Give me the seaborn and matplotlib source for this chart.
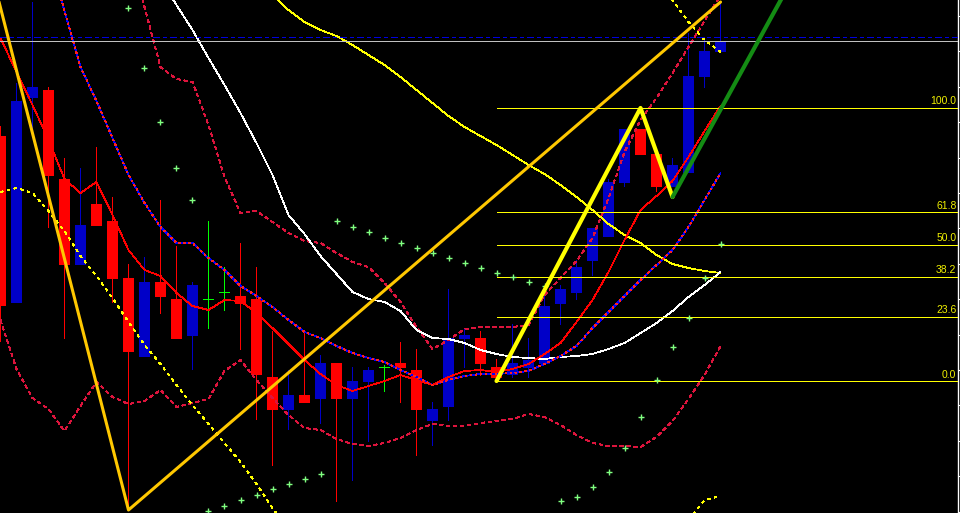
import numpy as np
import pandas as pd
import matplotlib
matplotlib.use("Agg")
import matplotlib.pyplot as plt
import seaborn as sns

nan = np.nan

# --- candles (price units = screen rows of the terminal, top = 0) ---
bars = np.arange(46)
open_ = [136, 303, 98, 90, 179, 265, 204, 221, 278, 357, 282, 299, 336, 299, 292, 296,
         299, 377, 410, 395, 399, 363, 399, 382, 367, 363, 370, 421, 407, 339, 338, 367,
         375, 368, 364, 304, 293, 261, 237, 183, 129, 154, 187, 173, 77, 52]
high = [126, 83, 2, 87, 158, 168, 147, 197, 264, 257, 200, 246, 282, 221, 267, 243,
        267, 331, 370, 331, 355, 363, 367, 367, 365, 342, 349, 402, 289, 328, 331, 359,
        324, 338, 294, 285, 260, 228, 179, 129, 129, 154, 158, 33, 37, 2]
low = [342, 303, 130, 228, 339, 265, 226, 303, 510, 357, 314, 339, 370, 329, 311, 350,
       420, 466, 430, 403, 424, 502, 481, 442, 392, 403, 456, 446, 421, 368, 376, 378,
       378, 378, 364, 325, 300, 276, 237, 187, 155, 192, 187, 173, 88, 52]
close = [306, 101, 87, 176, 265, 225, 226, 279, 352, 282, 297, 339, 285, 299, 292, 304,
         375, 410, 395, 403, 363, 399, 381, 370, 367, 368, 410, 409, 338, 335, 364, 378,
         363, 360, 306, 289, 267, 228, 182, 129, 155, 187, 165, 76, 51, 41]

# --- indicators, one value per bar (nan = not drawn / off chart) ---
ma_fast = [38, 72, 105, 140, 179, 193, 182, 215, 250, 270, 276, 293, 306, 310, 300, 301,
           313, 328, 344, 360, 374, 385, 391, 386, 381, 375, 380, 385, 377, 371, 370, 372,
           369, 364, 354, 343, 322, 300, 272, 240, 210, 196, 181, 157, 131, 106]
ma_mid = [nan, nan, nan, -46, 11, 67, 101, 138, 175, 203, 227, 243, 243, 258, 270, 286,
          296, 307, 320, 332, 338, 346, 353, 358, 362, 370, 377, 385, 380, 376, 374, 374,
          373, 371, 364, 356, 346, 328, 312, 296, 280, 265, 250, 227, 200, 173]
env_up = [nan] * 8 + [-50, 7, 67, 79, 82, 125, 177, 213, 211, 222, 233, 241, 243, 253,
                      262, 267, 283, 302, 327, 349, 340, 329, 327, 327, 327, 325, 295, 278,
                      261, 238, 198, 152, 120, 98, 73, 47, 21, -5]
env_dn = [320, 369, 398, 409, 431, 406, 382, 397, 404, 401, 390, 407, 403, 399, 371, 360,
          380, 398, 415, 428, 430, 439, 444, 446, 443, 438, 430, 424, 426, 426, 423, 421,
          419, 414, 417, 425, 435, 443, 446, 446, 447, 437, 421, 399, 375, 346]
ma_slow = [nan] * 9 + [-47, -21, 5, 30, 58, 85, 113, 143, 175, 215, 234, 256, 274, 292,
                       299, 302, 311, 330, 338, 339, 343, 350, 354, 357, 358, 359, 357, 356,
                       354, 349, 343, 333, 323, 311, 297, 285, 272]
ma_long = [nan] * 17 + [-5, 10, 22, 30, 36, 45, 55, 65, 77, 90, 103, 116, 127, 136, 145,
                        155, 165, 174, 185, 197, 210, 224, 235, 243, 255, 264, 268, 271, 273]
band2_dn = [192, 188, 193, 211, 231, 256, 276, 298, 322, 345, 364, 385, 405, 424, 443, 462,
            484, 508, 530, 552] + [nan] * 22 + [545, 520, 500, 496]
band2_up = [nan] * 41 + [-25, 0, 22, 40, 52]
sar = [nan] * 8 + [8, 68, 122, 168, 200, 511, 506, 500, 495, 489, 484, 479, 474, 221, 227,
                   232, 238, 243, 248, 253, 258, 263, 268, 273, 277, 282, 286, 501, 497, 487,
                   472, 448, 417, 380, 347, 318, 278, 244]

# --- drawn objects ---
zz_gold_x, zz_gold_y = [-2, 8, 45], [-118, 510, 2]
zz_yel_x, zz_yel_y = [31, 40, 42], [381, 108, 197]
zz_grn_x, zz_grn_y = [42, 50], [197, -36]
fib_pct = [0.0, 23.6, 38.2, 50.0, 61.8, 100.0]
level_blue = 37
level_grey = 41

candles = pd.DataFrame({"bar": bars, "open": open_, "high": high, "low": low, "close": close})
lines = pd.DataFrame({"bar": bars, "ma_fast": ma_fast, "ma_mid": ma_mid, "env_up": env_up,
                      "env_dn": env_dn, "ma_slow": ma_slow, "ma_long": ma_long,
                      "band2_dn": band2_dn, "band2_up": band2_up, "sar": sar})

sns.set_style("dark", {"axes.facecolor": "black", "figure.facecolor": "black"})
plt.rcParams["font.family"] = ["Liberation Sans", "DejaVu Sans"]

fig = plt.figure(figsize=(9.6, 5.13), dpi=100)
ax = fig.add_axes([0, 0, 958 / 960, 1])
XMAX = 59.84
THIN = 0.55
PX = 1 / 16  # one screen pixel in bar units

# candles: wicks and bodies as crisp rectangles
bull = candles["close"] < candles["open"]
bear = candles["close"] > candles["open"]
doji = candles["close"] == candles["open"]
col = np.where(bull, "#0000C8", np.where(bear, "#FF0000", "#00FF00"))
ax.bar(candles["bar"], candles["low"] - candles["high"], bottom=candles["high"],
       width=1.2 * PX, color=col, lw=0, antialiased=False, zorder=2)
body = candles[~doji]
ax.bar(body["bar"], (body["close"] - body["open"]).abs(),
       bottom=np.minimum(body["open"], body["close"]), width=0.69,
       color=col[~doji.values], lw=0, antialiased=False, zorder=2.1)
dj = candles[doji]
ax.bar(dj["bar"], 1.0, bottom=dj["open"] - 0.5, width=0.69, color="#00FF00", lw=0,
       antialiased=False, zorder=2.1)


def line(colname, **kw):
    d = lines.dropna(subset=[colname])
    sns.lineplot(data=d, x="bar", y=colname, ax=ax, estimator=None,
                 antialiased=False, lw=THIN, **kw)


line("env_up", color="#DC143C", linestyle=(0, (5, 5)), zorder=3)
line("env_dn", color="#DC143C", linestyle=(0, (5, 5)), zorder=3)
line("band2_dn", color="#FFFF00", linestyle=(0, (3, 6)), zorder=3)
line("band2_up", color="#FFFF00", linestyle=(0, (3, 6)), zorder=3)
line("ma_long", color="#FFFF00", zorder=3)
line("ma_slow", color="#FFFFFF", zorder=3)
line("ma_mid", color="#0000FF", zorder=3)
line("ma_mid", color="#FF2020", linestyle=(0, (2, 4)), zorder=3.1)
line("ma_fast", color="#FF0000", zorder=3)

s = lines.dropna(subset=["sar"])
sns.scatterplot(data=s, x="bar", y="sar", ax=ax, marker="+", s=16, color="#80FF80",
                linewidth=1, zorder=4)

# horizontal levels
ax.axhline(level_grey, color="#C0C0C0", lw=THIN, antialiased=False, zorder=3)
ax.axhline(level_blue, color="#0000E0", lw=THIN, linestyle=(0, (9, 4, 4, 4)),
           antialiased=False, zorder=3)

# fibonacci retracement from the yellow swing
lo, hi = zz_yel_y[0], zz_yel_y[1]
for p in fib_pct:
    lvl = lo - p / 100 * (lo - hi)
    ax.hlines(lvl, zz_yel_x[0], XMAX, colors="#FFFF00", lw=THIN, antialiased=False,
              zorder=3.5)
    ax.text(XMAX - 0.1, lvl - 1.5, f"{p:.1f}", ha="right", va="bottom", fontsize=7.5,
            color="#F0F000", zorder=6)

# trend / pattern lines
sns.lineplot(x=zz_gold_x, y=zz_gold_y, ax=ax, sort=False, estimator=None,
             color="#FFC800", lw=2.2, zorder=4.5)
sns.lineplot(x=zz_yel_x, y=zz_yel_y, ax=ax, sort=False, estimator=None,
             color="#FFFF00", lw=3.0, zorder=4.6)
sns.lineplot(x=zz_grn_x, y=zz_grn_y, ax=ax, sort=False, estimator=None,
             color="#148C14", lw=3.0, zorder=4.6)

ax.set_xlim(-0.03, XMAX)
ax.set_ylim(513, 0)
ax.set_xlabel("")
ax.set_ylabel("")
ax.grid(False)
for side in ["left", "top", "bottom"]:
    ax.spines[side].set_visible(False)
ax.spines["right"].set_visible(True)
ax.spines["right"].set_color("white")
ax.spines["right"].set_linewidth(1.0)
ax.set_xticks([])
ax.yaxis.tick_right()
ax.set_yticks(np.arange(16, 513, 35.4))
ax.tick_params(axis="y", direction="out", length=2.5, width=0.8, colors="white",
               right=True, left=False, labelright=False, labelleft=False)

fig.savefig("out.png", dpi=100, facecolor="black")
